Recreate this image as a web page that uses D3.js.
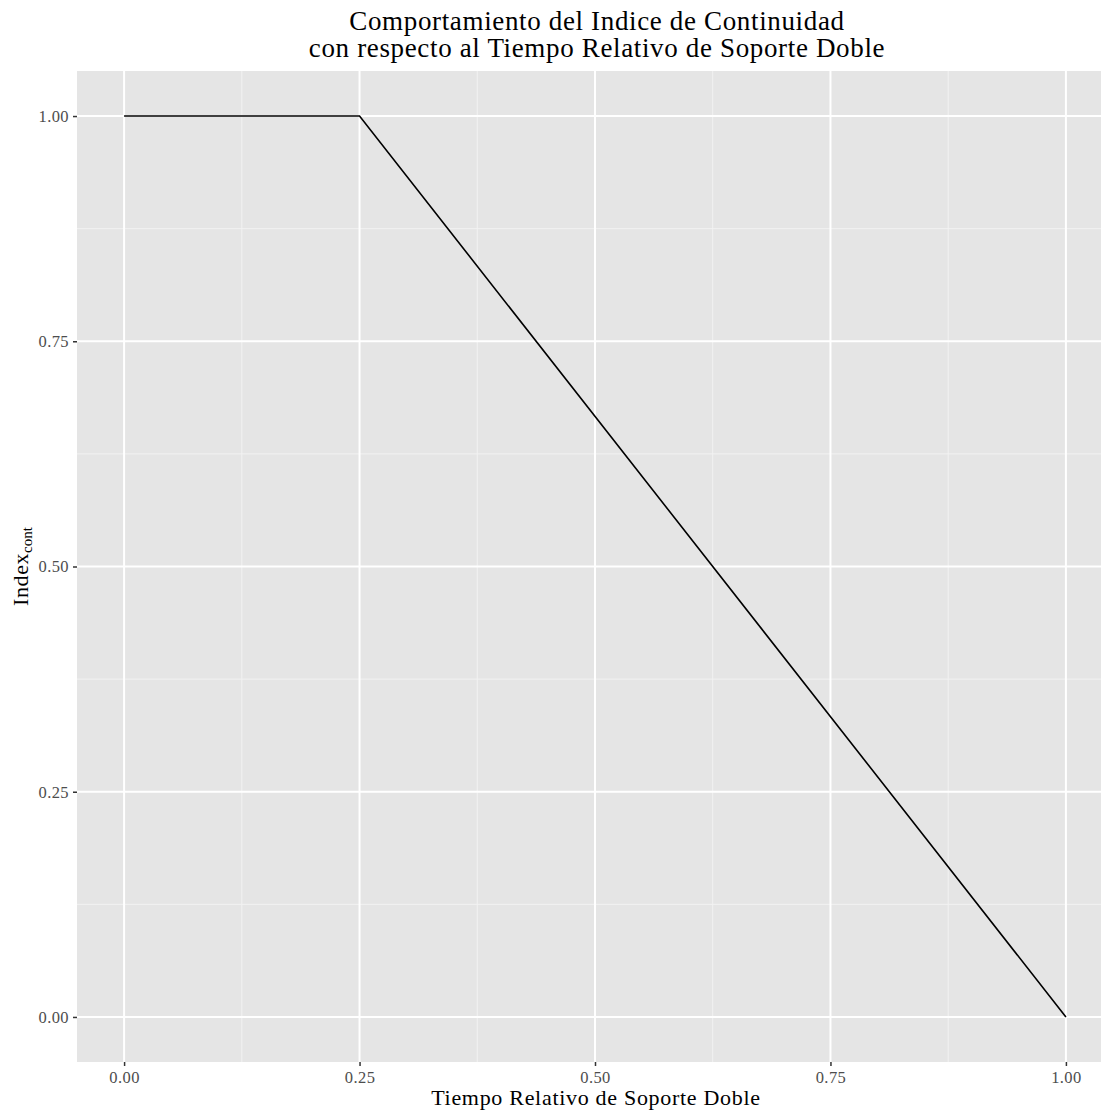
<!DOCTYPE html>
<html><head><meta charset="utf-8">
<script src="https://cdn.jsdelivr.net/npm/d3@7"></script>
<style>body{margin:0;background:#fff}svg{display:block}</style>
</head><body>
<script>
const xValues = [0, 0.25, 1];
const yValues = [1, 1, 0];
const xTicks = [0, 0.25, 0.5, 0.75, 1];
const yTicks = [0, 0.25, 0.5, 0.75, 1];
const xMinor = [0.125, 0.375, 0.625, 0.875];
const yMinor = [0.125, 0.375, 0.625, 0.875];
const titleLines = ["Comportamiento del Indice de Continuidad", "con respecto al Tiempo Relativo de Soporte Doble"];
const xLabel = "Tiempo Relativo de Soporte Doble";

const W = 1101, H = 1113;
const font = "'Liberation Serif', 'DejaVu Serif', serif";
const svg = d3.select("body").append("svg").attr("width", W).attr("height", H);

const x = d3.scaleLinear().domain([-0.05, 1.05]).range([77, 1113]);
const y = d3.scaleLinear().domain([-0.05, 1.05]).range([1062, 71]);

svg.append("rect").attr("x", x(-0.05)).attr("y", y(1.05))
  .attr("width", x(1.05) - x(-0.05)).attr("height", y(-0.05) - y(1.05)).attr("fill", "#e5e5e5");

const g = svg.append("g");
g.selectAll(".xmin").data(xMinor).join("line").attr("x1", d => x(d)).attr("x2", d => x(d))
  .attr("y1", y(1.05)).attr("y2", y(-0.05)).attr("stroke", "#f2f2f2").attr("stroke-width", 1);
g.selectAll(".ymin").data(yMinor).join("line").attr("y1", d => y(d)).attr("y2", d => y(d))
  .attr("x1", x(-0.05)).attr("x2", x(1.05)).attr("stroke", "#f2f2f2").attr("stroke-width", 1);
g.selectAll(".xmaj").data(xTicks).join("line").attr("x1", d => x(d)).attr("x2", d => x(d))
  .attr("y1", y(1.05)).attr("y2", y(-0.05)).attr("stroke", "#ffffff").attr("stroke-width", 2);
g.selectAll(".ymaj").data(yTicks).join("line").attr("y1", d => y(d)).attr("y2", d => y(d))
  .attr("x1", x(-0.05)).attr("x2", x(1.05)).attr("stroke", "#ffffff").attr("stroke-width", 2);

const pts = xValues.map((v, i) => [v, yValues[i]]);
svg.append("path").datum(pts)
  .attr("d", d3.line().x(d => x(d[0])).y(d => y(d[1])))
  .attr("fill", "none").attr("stroke", "#000").attr("stroke-width", 1.6);

const xAxis = svg.append("g").attr("transform", `translate(0,${y(-0.05)})`)
  .call(d3.axisBottom(x).tickValues(xTicks).tickFormat(d3.format(".2f")).tickSize(4).tickPadding(5));
const yAxis = svg.append("g").attr("transform", `translate(${x(-0.05)},0)`)
  .call(d3.axisLeft(y).tickValues(yTicks).tickFormat(d3.format(".2f")).tickSize(4).tickPadding(4));
[xAxis, yAxis].forEach(a => {
  a.select(".domain").remove();
  a.selectAll(".tick line").attr("stroke", "#333").attr("stroke-width", 1.5);
  a.selectAll(".tick text").attr("fill", "#4d4d4d").style("font-family", font)
    .style("font-size", "16.5px").style("letter-spacing", "0.4px");
});

svg.append("text").attr("x", 596).attr("y", 1105).attr("text-anchor", "middle")
  .style("font-family", font).style("font-size", "22px").style("letter-spacing", "0.7px")
  .attr("fill", "#000").text(xLabel);

const yl = svg.append("text").attr("transform", `translate(28,${y(0.5)}) rotate(-90)`)
  .attr("text-anchor", "middle").style("font-family", font).style("font-size", "22px").attr("fill", "#000");
yl.append("tspan").style("letter-spacing", "0.6px").text("Index");
yl.append("tspan").attr("dy", 4).style("font-size", "15px").text("cont");

svg.selectAll(".title").data(titleLines).join("text")
  .attr("x", 597).attr("y", (d, i) => 30 + i * 27).attr("text-anchor", "middle")
  .style("font-family", font).style("font-size", "27px").style("letter-spacing", "0.65px")
  .attr("fill", "#000").text(d => d);
</script>
</body></html>
